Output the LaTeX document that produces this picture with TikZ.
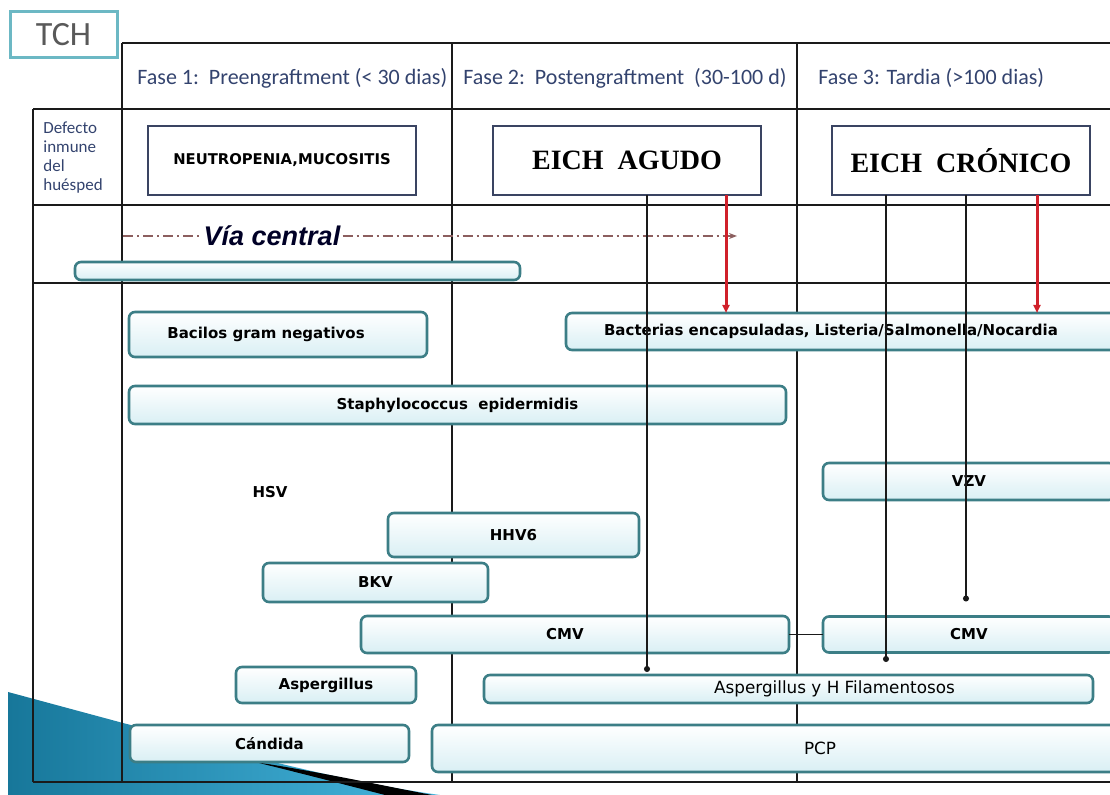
\documentclass[tikz,border=0pt]{standalone}
\usepackage{fontspec}
\setmainfont{DejaVu Sans}
\newfontfamily\calfont{Carlito}
\newfontfamily\titfont{Liberation Serif}
\newfontfamily\viafont{Liberation Sans}
\usepackage{tikz}
\usetikzlibrary{arrows.meta,calc}
\definecolor{TchTeal}{HTML}{6CB8C4}
\definecolor{BoxTeal}{HTML}{3C7E86}
\definecolor{BoxTint}{HTML}{D9EFF4}
\definecolor{ImmuneNavy}{HTML}{3A4462}
\definecolor{PhaseText}{HTML}{33436E}
\definecolor{GridLine}{HTML}{1A1A1A}
\definecolor{ViaLine}{HTML}{8C5F5F}
\definecolor{ArrowRed}{HTML}{D0202A}
\definecolor{SwooshDark}{HTML}{17779A}
\definecolor{SwooshLight}{HTML}{46B6DE}
\tikzset{
  tablethin/.style={draw=GridLine,line width=0.6pt},
  tablethick/.style={draw=GridLine,line width=1.4pt},
  defect/.style={draw=ImmuneNavy,line width=1.1pt,fill=white,minimum height=34.5pt,inner sep=2pt,outer sep=0pt},
  infbox/.style={draw=BoxTeal,line width=1.3pt,rounded corners=3pt,top color=white,bottom color=BoxTint,inner sep=1pt,outer sep=0pt,font=\fontsize{7.5}{9}\selectfont\bfseries},
  phase/.style={anchor=west,font=\calfont\fontsize{11}{13}\selectfont,text=PhaseText,inner sep=0pt},
  eichlabel/.style={font=\titfont\bfseries\fontsize{14}{16}\selectfont},
  redarrow/.style={-{Triangle[length=4pt,width=3.5pt]},line width=1.5pt,draw=ArrowRed,fill=ArrowRed},
  dotline/.style={-{Circle[length=3pt]},line width=0.6pt,draw=GridLine},
  vialine/.style={draw=ViaLine,line width=0.7pt,dash pattern=on 5pt off 2pt on 1pt off 2pt}
}

\begin{document}
\begin{tikzpicture}[x=0.5pt,y=-0.5pt]
  \useasboundingbox (0,0) rectangle (1110,795);

  % slide decoration
  \shade[left color=SwooshDark,right color=SwooshLight]
    (8,692) -- (123,723) .. controls (220,748) and (330,780) .. (440,795) -- (8,795) -- cycle;
  \fill[black] (255,762) .. controls (320,772) and (380,785) .. (432,795)
    -- (385,795) .. controls (350,786) and (300,773) .. (255,762) -- cycle;

  % table frame
  \draw[tablethin,line width=1pt] (122,43) -- (1110,43);
  \draw[tablethick] (33,109) -- (1110,109);
  \draw[tablethin] (33,205) -- (1110,205);
  \draw[tablethin] (33,283) -- (1110,283);
  \draw[tablethick] (33,782) -- (1110,782);
  \draw[tablethin,line width=1pt] (33,109) -- (33,782);
  \foreach \xcol in {122,452,797}
    \draw[tablethin,line width=0.9pt] (\xcol,43) -- (\xcol,782);

  \node[draw=TchTeal,line width=1.5pt,fill=white,minimum width=53.5pt,minimum height=23pt,
        font=\calfont\fontsize{17}{19}\selectfont,text=black!65] (tch) at (63.5,35) {TCH};

  % phases
  \node[phase] (fase1) at (137,78) {Fase 1:\ \ Preengraftment (< 30 dias)};
  \node[phase] (fase2) at (463,78) {Fase 2:\ \ Postengraftment\ \ (30-100 d)};
  \node[phase] (fase3) at (818,78) {Fase 3: Tardia (>100 dias)};

  % immune defect row
  \node[anchor=north west,align=left,inner sep=0pt,text=PhaseText,
        font=\calfont\fontsize{8.5}{9.5}\selectfont] (host) at (43,121) {Defecto\\inmune\\del\\huésped};
  \node[defect,minimum width=134pt,font=\fontsize{7.4}{9}\selectfont\bfseries] (neutro) at (282,160.5) {NEUTROPENIA,MUCOSITIS};
  \node[defect,minimum width=134pt,eichlabel] (agudo) at (627,160.5) {EICH\ \ AGUDO};
  \node[defect,minimum width=129pt,eichlabel] (cronico) at (961,160.5) {EICH\ \ CRÓNICO};

  % central line
  \node[font=\viafont\bfseries\itshape\fontsize{13.5}{15}\selectfont,text=black!85!blue,inner sep=1pt] (via) at (272,236) {Vía central};
  \coordinate (viastart) at (123,236);
  \coordinate (viaend) at (737,236);
  \draw[vialine] (viastart) -- (via.west);
  \draw[vialine,-{Stealth[length=4pt]}] (via.east) -- (viaend);
  \node[infbox,minimum width=222.5pt,minimum height=9pt] (catheter) at (297.5,271) {};

  % pathogens
  \node[infbox,minimum width=149pt,minimum height=22.5pt] (bacilos) at (278,334.5) {Bacilos gram negativos\hspace*{12pt}};
  \node[infbox,minimum width=277pt,minimum height=18.5pt] (bact) at (843,331.5) {Bacterias encapsuladas, Listeria/Salmonella/Nocardia\hspace*{12pt}};
  \node[infbox,minimum width=328.5pt,minimum height=19pt] (staph) at (457.5,405) {Staphylococcus\ \ epidermidis};
  \node[infbox,minimum width=146pt,minimum height=18.5pt] (vzv) at (969,481.5) {VZV};
  \node[font=\fontsize{7.5}{9}\selectfont\bfseries] (hsv) at (270,492) {HSV};
  \node[infbox,minimum width=125.5pt,minimum height=22pt] (hhv6) at (513.5,535) {HHV6};
  \node[infbox,minimum width=112.5pt,minimum height=19.5pt] (bkv) at (375.5,582.5) {BKV};
  \node[infbox,minimum width=214pt,minimum height=18.5pt] (cmvA) at (575,634.5) {\hspace*{-10pt}CMV};
  \node[infbox,minimum width=146pt,minimum height=18pt] (cmvB) at (969,634.5) {CMV};
  \node[infbox,minimum width=90pt,minimum height=18pt] (asp) at (326,685) {Aspergillus};
  \node[infbox,minimum width=304.5pt,minimum height=14pt,font=\fontsize{8.4}{9}\selectfont] (asph) at (788.5,689) {\hspace*{46pt}Aspergillus y H Filamentosos};
  \node[infbox,minimum width=139.5pt,minimum height=18.5pt] (candida) at (269.5,743.5) {Cándida};
  \node[infbox,minimum width=344pt,minimum height=23.5pt,font=\fontsize{8.4}{9}\selectfont] (pcp) at (776,748.5) {\hspace*{44pt}PCP};

  \draw[tablethin,line width=0.8pt] (cmvA.east) -- (cmvB.west);

  % links from GVHD
  \coordinate (ag1) at ([xshift=10pt]agudo.south);
  \coordinate (ag2) at ([xshift=49.5pt]agudo.south);
  \coordinate (cr1) at ([xshift=-37.5pt]cronico.south);
  \coordinate (cr2) at ([xshift=2.5pt]cronico.south);
  \coordinate (cr3) at ([xshift=38pt]cronico.south);
  \draw[dotline,shorten >=1.5pt] (ag1) -- (ag1 |- asph.north);
  \draw[dotline,shorten >=6.5pt] (cr1) -- (cr1 |- asph.north);
  \draw[dotline,shorten >=7.5pt] (cr2) -- (cr2 |- cmvB.north);
  \draw[redarrow] (ag2) -- (ag2 |- bact.north);
  \draw[redarrow] (cr3) -- (cr3 |- bact.north);
\end{tikzpicture}
\end{document}
